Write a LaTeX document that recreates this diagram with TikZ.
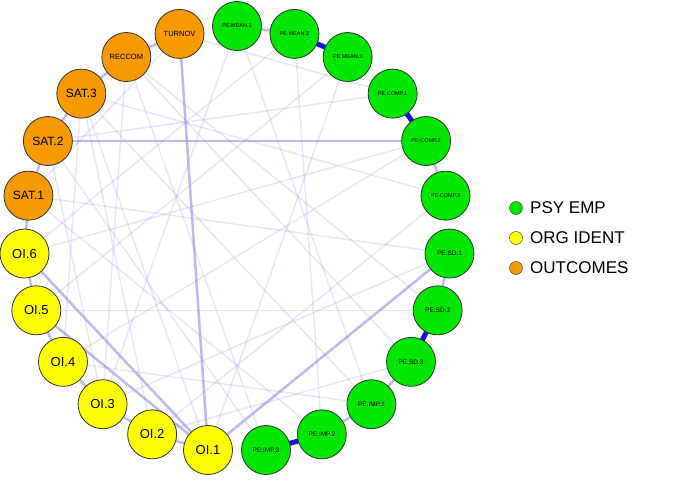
\documentclass[tikz,border=0pt]{standalone}
\usepackage{fontspec}
\setmainfont{Liberation Sans}
\usepackage{xcolor}
\usetikzlibrary{positioning}
\definecolor{psy}{RGB}{0,230,0}
\definecolor{org}{RGB}{255,255,0}
\definecolor{outc}{RGB}{245,155,0}
\definecolor{edge}{RGB}{120,120,225}
\definecolor{strong}{RGB}{20,20,210}
\tikzset{
    vert/.style={circle,draw=black!80,thick,minimum size=49pt,inner sep=0pt},
    faint/.style={edge,opacity=0.18,line width=1.5pt},
    mid/.style={edge,opacity=0.5,line width=2.5pt},
    heavy/.style={strong,line width=5pt},
    legdot/.style={circle,draw=black!80,minimum size=13pt,inner sep=0pt}
}
\begin{document}
\begin{tikzpicture}[x=1pt,y=-1pt]
    \useasboundingbox (0,0) rectangle (685,482);
    % node places on the circle
    \foreach \i in {0,...,22} {
        \coordinate (p\i) at ({237+213*cos(90-\i*360/23)},{239-213*sin(90-\i*360/23)});
    }
    % edges first, under the nodes
    \foreach \a/\b in {p1/p10,p0/p14,p2/p16,p3/p19,p5/p20,p8/p13,p9/p15,p11/p21,p12/p20,
        p4/p17,p6/p18,p7/p21,p1/p17,p0/p9,p10/p18,p2/p12,p3/p22,p11/p19,p6/p14,p4/p15,
        p7/p16,p8/p21,p5/p13,p9/p20,p18/p22,p14/p21,p15/p20,p14/p19,p13/p20} {
        \draw[faint] (\a) -- (\b);
    }
    \foreach \a/\b in {p19/p4,p12/p22,p6/p12,p12/p16,p12/p17,p12/p13,p13/p14,p14/p15,
        p15/p16,p16/p17,p17/p18,p18/p19,p19/p20,p20/p21,p21/p22,p4/p5,p9/p10,p6/p7,p0/p1,
        p8/p9} {
        \draw[mid] (\a) -- (\b);
    }
    \foreach \a/\b in {p1/p2,p3/p4,p7/p8,p10/p11} {
        \draw[heavy] (\a) -- (\b);
    }
    % nodes
    \foreach \i/\txt/\col/\fs in {0/PE.MEAN.1/psy/5.5,1/PE.MEAN.2/psy/5.5,2/PE.MEAN.3/psy/5.5,
        3/PE.COMP.1/psy/5.5,4/PE.COMP.2/psy/5.5,5/PE.COMP.3/psy/5.5,6/PE.SD.1/psy/6.5,
        7/PE.SD.2/psy/6.5,8/PE.SD.3/psy/6.5,9/PE.IMP.1/psy/6.5,10/PE.IMP.2/psy/6.5,
        11/PE.IMP.3/psy/6.5,12/OI.1/org/13,13/OI.2/org/13,14/OI.3/org/13,15/OI.4/org/13,
        16/OI.5/org/13,17/OI.6/org/13,18/SAT.1/outc/12,19/SAT.2/outc/12,20/SAT.3/outc/12,
        21/RECCOM/outc/7.5,22/TURNOV/outc/7.5} {
        \node[vert,fill=\col,font=\fontsize{\fs}{\fs}\selectfont] (v\i) at (p\i) {\txt};
    }
    % legend
    \node[legdot,fill=psy] (l1) at (516,208) {};
    \node[legdot,fill=org] (l2) at (516,238) {};
    \node[legdot,fill=outc] (l3) at (516,268) {};
    \node[right=4pt of l1,font=\fontsize{17}{17}\selectfont] (t1) {PSY EMP};
    \node[right=4pt of l2,font=\fontsize{17}{17}\selectfont] (t2) {ORG IDENT};
    \node[right=4pt of l3,font=\fontsize{17}{17}\selectfont] (t3) {OUTCOMES};
\end{tikzpicture}
\end{document}
